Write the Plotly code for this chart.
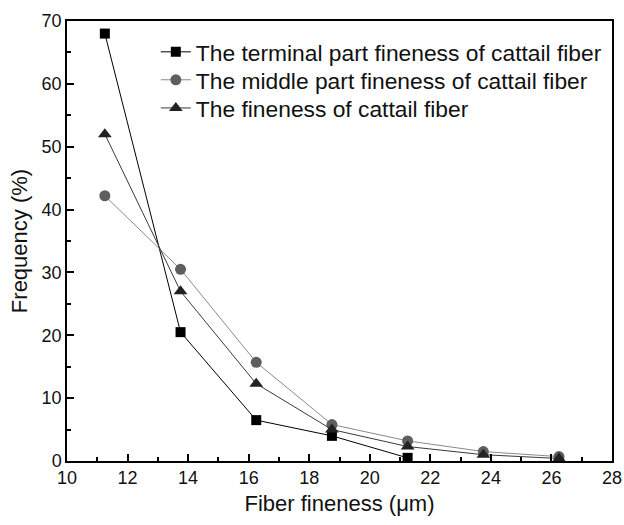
import plotly.graph_objects as go

x_terminal = [11.25, 13.75, 16.25, 18.75, 21.25]
y_terminal = [68.0, 20.5, 6.5, 4.0, 0.5]
x_middle = [11.25, 13.75, 16.25, 18.75, 21.25, 23.75, 26.25]
y_middle = [42.2, 30.5, 15.7, 5.8, 3.2, 1.5, 0.7]
x_all = [11.25, 13.75, 16.25, 18.75, 21.25, 23.75, 26.25]
y_all = [52.0, 27.0, 12.3, 5.0, 2.3, 1.0, 0.4]

names = ["The terminal part fineness of cattail fiber",
         "The middle part fineness of cattail fiber",
         "The fineness of cattail fiber"]

fig = go.Figure()
fig.add_trace(go.Scatter(x=x_terminal, y=y_terminal, name=names[0], mode="lines+markers",
                         legend="legend",
                         line=dict(color="#000000", width=1),
                         marker=dict(symbol="square", size=10, color="#000000")))
fig.add_trace(go.Scatter(x=x_middle, y=y_middle, name=names[1], mode="lines+markers",
                         legend="legend2",
                         line=dict(color="#8a8a8a", width=1),
                         marker=dict(symbol="circle", size=11, color="#5e5e5e")))
fig.add_trace(go.Scatter(x=x_all, y=y_all, name=names[2], mode="lines+markers",
                         legend="legend3",
                         line=dict(color="#3a3a3a", width=1),
                         marker=dict(symbol="triangle-up", size=12, color="#222222")))

font_family = "Liberation Sans, Arial, sans-serif"
axis_common = dict(showline=True, linecolor="black", linewidth=1.5, mirror=True,
                   ticks="inside", ticklen=7, tickwidth=1.5, tickcolor="black",
                   showgrid=False, zeroline=False, automargin=False,
                   tickfont=dict(family=font_family, size=18, color="#111111"))

fig.update_xaxes(range=[10, 28], dtick=2, tick0=10,
                 minor=dict(ticks="inside", ticklen=4, tickwidth=1.5, dtick=1, tickcolor="black"),
                 title=dict(text="Fiber fineness (μm)", font=dict(family=font_family, size=22, color="#111111"),
                            standoff=8),
                 **axis_common)
fig.update_yaxes(range=[0, 70], dtick=10, tick0=0,
                 minor=dict(ticks="inside", ticklen=4, tickwidth=1.5, dtick=5, tickcolor="black"),
                 title=dict(text="Frequency (%)", font=dict(family=font_family, size=22, color="#111111"),
                            standoff=8),
                 **axis_common)

legend_common = dict(x=0.163, xanchor="left", yanchor="middle",
                     bgcolor="rgba(0,0,0,0)", borderwidth=0,
                     font=dict(family=font_family, size=22.8, color="#111111"),
                     itemwidth=30)

fig.update_layout(
    width=624, height=525,
    margin=dict(l=67, r=12, t=21, b=64),
    paper_bgcolor="white", plot_bgcolor="white",
    showlegend=True,
    legend=dict(y=0.9295, **legend_common),
    legend2=dict(y=0.866, **legend_common),
    legend3=dict(y=0.802, **legend_common),
    font=dict(family=font_family, color="#111111"),
)

fig.write_html("out.html", config={"displayModeBar": False},
               post_script="document.body.style.margin='0';")
